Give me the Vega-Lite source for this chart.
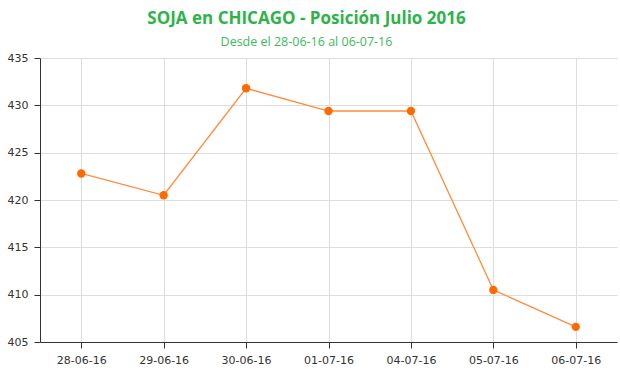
{
  "$schema": "https://vega.github.io/schema/vega-lite/v6.json",
  "autosize": {"type": "none"},
  "padding": {"left": 40, "top": 58, "right": 3, "bottom": 33},
  "width": 577,
  "height": 284,
  "background": "white",
  "title": {
    "text": "SOJA en CHICAGO - Posición Julio 2016",
    "subtitle": "Desde el 28-06-16 al 06-07-16",
    "anchor": "middle",
    "dx": -22,
    "offset": 3,
    "font": "Open Sans",
    "fontSize": 17,
    "fontWeight": "bold",
    "color": "#2db34a",
    "subtitleFont": "Open Sans",
    "subtitleFontSize": 12.5,
    "subtitleColor": "#3dbb5a",
    "subtitlePadding": 8
  },
  "data": {
    "values": [
      {"fecha": "28-06-16", "precio": 422.8},
      {"fecha": "29-06-16", "precio": 420.5},
      {"fecha": "30-06-16", "precio": 431.8},
      {"fecha": "01-07-16", "precio": 429.4},
      {"fecha": "04-07-16", "precio": 429.4},
      {"fecha": "05-07-16", "precio": 410.5},
      {"fecha": "06-07-16", "precio": 406.6}
    ]
  },
  "encoding": {
    "x": {
      "field": "fecha",
      "type": "ordinal",
      "sort": null,
      "scale": {"type": "point", "padding": 0.5},
      "axis": {
        "title": null,
        "labelAngle": 0,
        "labelFont": "DejaVu Sans",
        "labelFontSize": 11,
        "labelColor": "#333333",
        "labelPadding": 6,
        "tickSize": 6,
        "tickColor": "#333333",
        "domainColor": "#333333",
        "gridColor": "#dddddd",
        "grid": true
      }
    },
    "y": {
      "field": "precio",
      "type": "quantitative",
      "scale": {"domain": [405, 435], "nice": false, "zero": false},
      "axis": {
        "title": null,
        "values": [405, 410, 415, 420, 425, 430, 435],
        "labelFont": "DejaVu Sans",
        "labelFontSize": 11,
        "labelColor": "#333333",
        "labelPadding": 6,
        "tickSize": 6,
        "tickColor": "#333333",
        "domainColor": "#333333",
        "gridColor": "#dddddd"
      }
    }
  },
  "layer": [
    {"mark": {"type": "line", "color": "#ff8c3c", "strokeWidth": 1.3}},
    {"mark": {"type": "point", "filled": true, "color": "#ff6a00", "size": 70, "opacity": 1}}
  ],
  "config": {"view": {"stroke": null}}
}
